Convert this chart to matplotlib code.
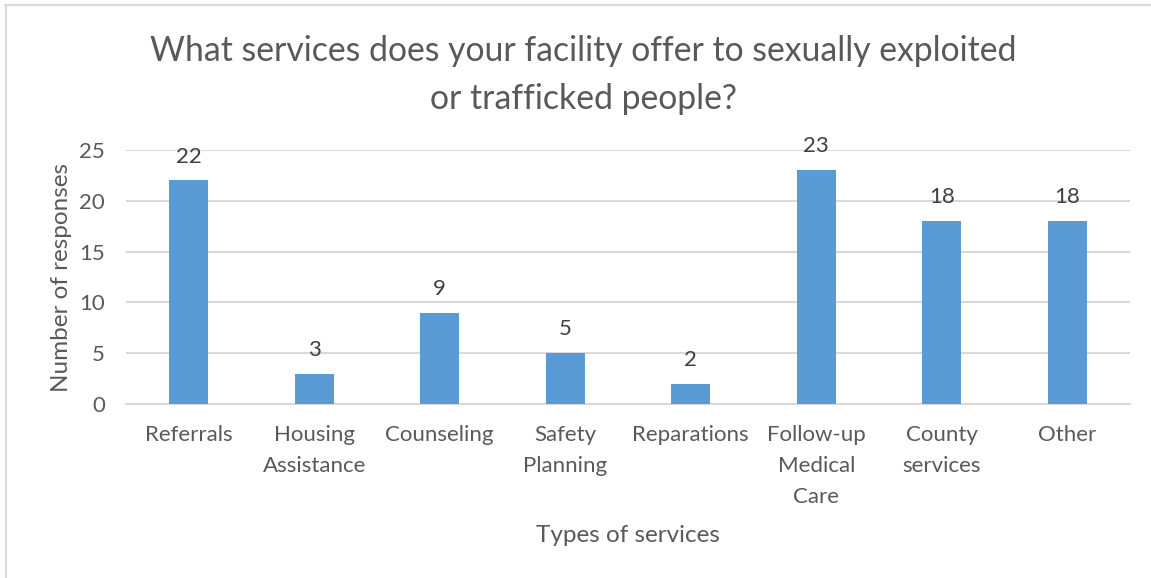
import matplotlib
matplotlib.use("Agg")
import matplotlib.pyplot as plt
from matplotlib.lines import Line2D

categories = ["Referrals", "Housing\nAssistance", "Counseling", "Safety\nPlanning",
              "Reparations", "Follow-up\nMedical\nCare", "County\nservices", "Other"]
values = [22, 3, 9, 5, 2, 23, 18, 18]
yticks = [0, 5, 10, 15, 20, 25]

title = "What services does your facility offer to sexually exploited\nor trafficked people?"
xlabel = "Types of services"
ylabel = "Number of responses"

plt.rcParams['font.family'] = ['Lato', 'DejaVu Sans']

W, H = 1151, 578
fig = plt.figure(figsize=(W / 100, H / 100), dpi=100)
ax = fig.add_axes([126 / W, 1 - 404 / H, (1130 - 126) / W, (404 - 150) / H])

x = list(range(len(categories)))
bars = ax.bar(x, values, width=0.31, color="#5B9BD5", zorder=3)
ax.set_xlim(-0.5, len(categories) - 0.5)
ax.set_ylim(0, 25)
ax.set_yticks(yticks)
ax.set_xticks(x)
ax.set_xticklabels(categories, fontsize=16, color="#595959", linespacing=1.68)
ax.tick_params(axis='y', labelsize=16, labelcolor="#595959", length=0, pad=15)
ax.tick_params(axis='x', length=0, pad=15)
ax.grid(axis='y', color="#d9d9d9", linewidth=1.5, zorder=0)
for s in ["top", "right", "left"]:
    ax.spines[s].set_visible(False)
ax.spines["bottom"].set_color("#d9d9d9")
ax.spines["bottom"].set_linewidth(1.5)

for b, v in zip(bars, values):
    ax.annotate(str(v), (b.get_x() + b.get_width() / 2, v), xytext=(0, 10),
                textcoords="offset points", ha="center", va="bottom",
                fontsize=16, color="#404040")

ax.set_xlabel(xlabel, fontsize=17.5, color="#595959", labelpad=13)
ax.set_ylabel(ylabel, fontsize=17.5, color="#595959", labelpad=5)

fig.text(583 / W, 1 - 75 / H, title, ha="center", va="center", fontsize=24.3,
         color="#595959", linespacing=1.6)

# chart border (top and left visible)
fig.add_artist(Line2D([5 / W, 1.0], [1 - 5 / H, 1 - 5 / H], color="#d9d9d9", lw=1.5,
                      transform=fig.transFigure))
fig.add_artist(Line2D([6 / W, 6 / W], [0, 1 - 5 / H], color="#d9d9d9", lw=1.5,
                      transform=fig.transFigure))

fig.savefig("out.png", dpi=100)
